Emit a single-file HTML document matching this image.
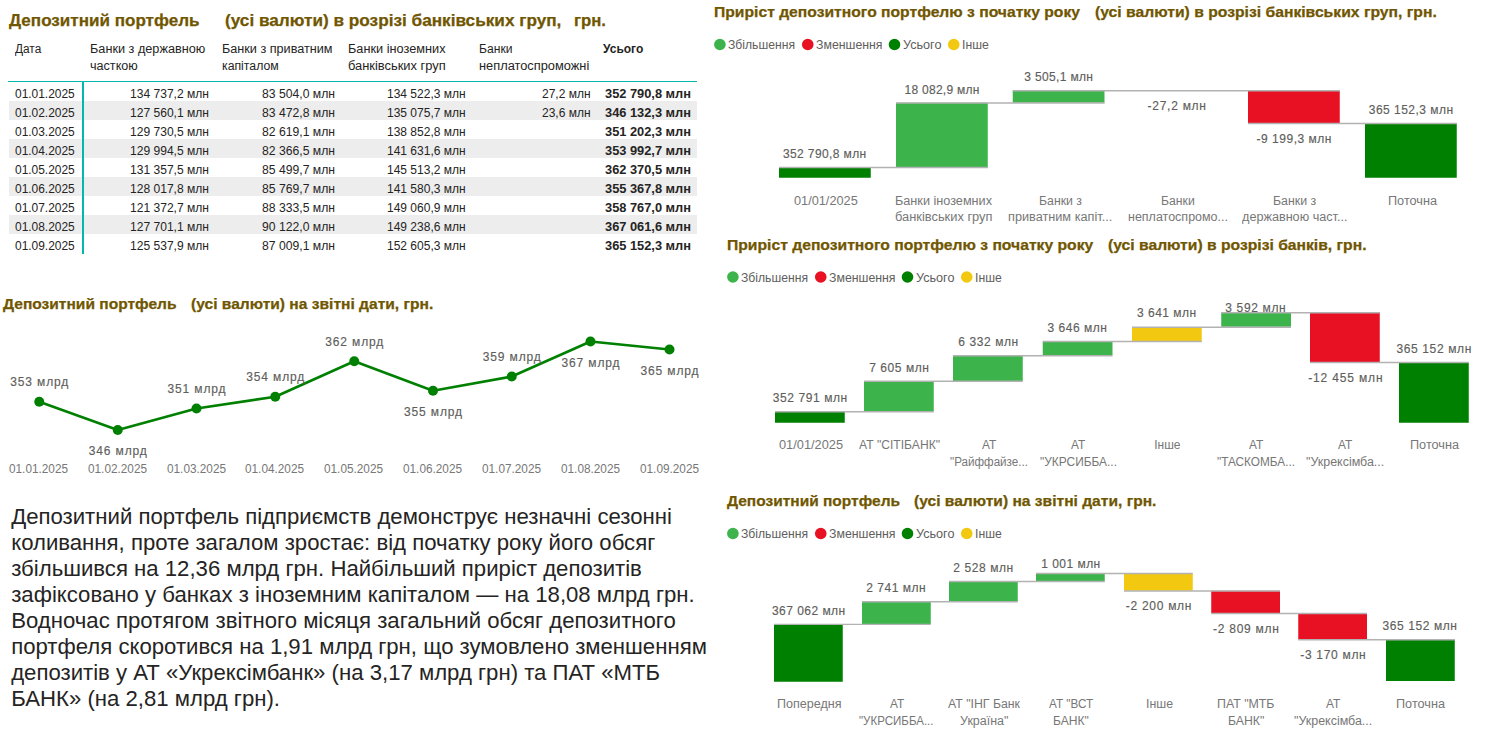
<!DOCTYPE html>
<html lang="uk"><head><meta charset="utf-8"><title>Депозитний портфель</title>
<style>
html,body{margin:0;padding:0;background:#fff}
body{width:1503px;height:736px;position:relative;overflow:hidden;font-family:"Liberation Sans",sans-serif}
.t{position:absolute;white-space:pre;transform-origin:0 0;line-height:20px;font-size:12px;color:#252423}
.b{font-weight:700}
.h{color:#705600;font-weight:700;-webkit-text-stroke:0.25px #705600}
.l{color:#605E5C}
.a{color:#777777}
.d{-webkit-text-stroke:0.15px #605E5C}
.r{position:absolute}
#para{position:absolute;left:11.2px;top:504.08px;margin:0;font-size:22.17px;line-height:26px;color:#252423;white-space:nowrap}
svg{position:absolute;left:0;top:0}
</style></head><body>
<div class="r" style="left:9px;top:101px;width:687.5px;height:19px;background:#EDEDED"></div>
<div class="r" style="left:9px;top:139px;width:687.5px;height:19px;background:#EDEDED"></div>
<div class="r" style="left:9px;top:177px;width:687.5px;height:19px;background:#EDEDED"></div>
<div class="r" style="left:9px;top:215px;width:687.5px;height:19px;background:#EDEDED"></div>
<div class="r" style="left:8px;top:80.8px;width:688.5px;height:1.3px;background:#01B8AA"></div>
<div class="r" style="left:82px;top:81px;width:2px;height:172.75px;background:#01B8AA"></div>
<svg width="1503" height="736" viewBox="0 0 1503 736">
<polyline fill="none" stroke="#008000" stroke-width="2.6" stroke-linejoin="round" points="39.25,401.75 117.75,430 196.5,408.5 275.25,396.75 354.25,361.25 433,390.75 511.75,376.5 590.5,341.5 669.5,349.5"/>
<circle cx="39.25" cy="401.75" r="5" fill="#008000"/>
<circle cx="117.75" cy="430" r="5" fill="#008000"/>
<circle cx="196.5" cy="408.5" r="5" fill="#008000"/>
<circle cx="275.25" cy="396.75" r="5" fill="#008000"/>
<circle cx="354.25" cy="361.25" r="5" fill="#008000"/>
<circle cx="433" cy="390.75" r="5" fill="#008000"/>
<circle cx="511.75" cy="376.5" r="5" fill="#008000"/>
<circle cx="590.5" cy="341.5" r="5" fill="#008000"/>
<circle cx="669.5" cy="349.5" r="5" fill="#008000"/>
<circle cx="719.90" cy="44.5" r="5.8" fill="#3CB44B"/>
<circle cx="807.75" cy="44.5" r="5.8" fill="#E81123"/>
<circle cx="894.50" cy="44.5" r="5.8" fill="#008000"/>
<circle cx="953.75" cy="44.5" r="5.8" fill="#F2C811"/>
<rect x="779.00" y="167.00" width="91.75" height="10.75" fill="#008000"/>
<rect x="896.00" y="102.75" width="91.75" height="64.75" fill="#3CB44B"/>
<rect x="1012.75" y="90.00" width="91.75" height="12.75" fill="#3CB44B"/>
<rect x="1248.00" y="90.50" width="91.75" height="32.50" fill="#E81123"/>
<rect x="1365.00" y="123.50" width="91.75" height="54.25" fill="#008000"/>
<circle cx="732.90" cy="277" r="5.8" fill="#3CB44B"/>
<circle cx="820.75" cy="277" r="5.8" fill="#E81123"/>
<circle cx="907.50" cy="277" r="5.8" fill="#008000"/>
<circle cx="966.75" cy="277" r="5.8" fill="#F2C811"/>
<rect x="775.00" y="411.50" width="69.75" height="11.25" fill="#008000"/>
<rect x="864.00" y="381.00" width="69.75" height="30.50" fill="#3CB44B"/>
<rect x="953.00" y="355.25" width="69.75" height="25.75" fill="#3CB44B"/>
<rect x="1042.75" y="341.25" width="69.75" height="14.25" fill="#3CB44B"/>
<rect x="1132.00" y="327.00" width="69.75" height="14.25" fill="#F2C811"/>
<rect x="1221.25" y="312.50" width="69.75" height="14.25" fill="#3CB44B"/>
<rect x="1310.00" y="312.50" width="69.75" height="49.50" fill="#E81123"/>
<rect x="1399.00" y="362.50" width="69.75" height="60.25" fill="#008000"/>
<circle cx="732.90" cy="533.5" r="5.8" fill="#3CB44B"/>
<circle cx="820.75" cy="533.5" r="5.8" fill="#E81123"/>
<circle cx="907.50" cy="533.5" r="5.8" fill="#008000"/>
<circle cx="966.75" cy="533.5" r="5.8" fill="#F2C811"/>
<rect x="774.00" y="624.25" width="68.75" height="57.50" fill="#008000"/>
<rect x="862.00" y="601.50" width="68.75" height="22.50" fill="#3CB44B"/>
<rect x="949.00" y="581.25" width="68.75" height="20.25" fill="#3CB44B"/>
<rect x="1036.00" y="573.25" width="68.75" height="8.00" fill="#3CB44B"/>
<rect x="1124.00" y="573.25" width="68.75" height="17.50" fill="#F2C811"/>
<rect x="1211.25" y="590.75" width="68.75" height="22.50" fill="#E81123"/>
<rect x="1298.25" y="613.25" width="68.75" height="26.25" fill="#E81123"/>
<rect x="1386.00" y="639.50" width="68.75" height="41.50" fill="#008000"/>
<g stroke="#B2B2B2" stroke-width="1.4"><line x1="779.00" y1="167.50" x2="987.75" y2="167.50"/><line x1="896.00" y1="103.05" x2="1104.50" y2="103.05"/><line x1="1012.75" y1="90.70" x2="1339.75" y2="90.70"/><line x1="1248.00" y1="123.50" x2="1456.75" y2="123.50"/><line x1="775.00" y1="411.80" x2="933.75" y2="411.80"/><line x1="864.00" y1="381.30" x2="1022.75" y2="381.30"/><line x1="953.00" y1="355.70" x2="1112.50" y2="355.70"/><line x1="1042.75" y1="341.55" x2="1201.75" y2="341.55"/><line x1="1132.00" y1="327.30" x2="1291.00" y2="327.30"/><line x1="1221.25" y1="312.80" x2="1379.75" y2="312.80"/><line x1="1310.00" y1="362.55" x2="1468.75" y2="362.55"/><line x1="774.00" y1="624.40" x2="930.75" y2="624.40"/><line x1="862.00" y1="601.80" x2="1017.75" y2="601.80"/><line x1="949.00" y1="581.55" x2="1104.75" y2="581.55"/><line x1="1036.00" y1="573.55" x2="1192.75" y2="573.55"/><line x1="1124.00" y1="591.05" x2="1280.00" y2="591.05"/><line x1="1211.25" y1="613.55" x2="1367.00" y2="613.55"/><line x1="1298.25" y1="639.80" x2="1454.75" y2="639.80"/></g>
</svg>
<span class="t h" style="left:9.00px;top:10.04px;font-size:17.2px;transform:scaleX(0.9926)">Депозитний портфель</span>
<span class="t h" style="left:225.00px;top:10.04px;font-size:17.2px">(усі валюти) в розрізі банківських груп,</span>
<span class="t h" style="left:573.75px;top:10.04px;font-size:17.2px;transform:scaleX(0.9748)">грн.</span>
<span class="t" style="left:14.50px;top:38.84px;transform:scaleX(0.9877)">Дата</span>
<span class="t" style="left:89.50px;top:38.84px;transform:scaleX(1.0570)">Банки з державною</span>
<span class="t" style="left:89.50px;top:55.84px;transform:scaleX(1.0498)">часткою</span>
<span class="t" style="left:221.50px;top:38.84px;transform:scaleX(1.0533)">Банки з приватним</span>
<span class="t" style="left:221.50px;top:55.84px;transform:scaleX(1.0234)">капіталом</span>
<span class="t" style="left:347.50px;top:38.84px;transform:scaleX(1.0607)">Банки іноземних</span>
<span class="t" style="left:347.50px;top:55.84px;transform:scaleX(1.0740)">банківських груп</span>
<span class="t" style="left:478.75px;top:38.84px;transform:scaleX(1.0108)">Банки</span>
<span class="t" style="left:478.75px;top:55.84px;transform:scaleX(1.0683)">неплатоспроможні</span>
<span class="t b" style="left:603.00px;top:38.84px">Усього</span>
<span class="t" style="left:14.50px;top:83.84px;transform:scaleX(0.9948)">01.01.2025</span>
<span class="t" style="left:130.00px;top:83.84px;transform:scaleX(1.0050)">134 737,2 млн</span>
<span class="t" style="left:262.00px;top:83.84px;transform:scaleX(1.0148)">83 504,0 млн</span>
<span class="t" style="left:387.00px;top:83.84px">134 522,3 млн</span>
<span class="t" style="left:542.00px;top:83.84px">27,2 млн</span>
<span class="t b" style="left:604.50px;top:83.84px;transform:scaleX(1.0687)">352 790,8 млн</span>
<span class="t" style="left:14.50px;top:102.84px;transform:scaleX(0.9948)">01.02.2025</span>
<span class="t" style="left:130.00px;top:102.84px;transform:scaleX(1.0050)">127 560,1 млн</span>
<span class="t" style="left:262.00px;top:102.84px;transform:scaleX(1.0148)">83 472,8 млн</span>
<span class="t" style="left:387.00px;top:102.84px">135 075,7 млн</span>
<span class="t" style="left:542.00px;top:102.84px">23,6 млн</span>
<span class="t b" style="left:604.50px;top:102.84px;transform:scaleX(1.0687)">346 132,3 млн</span>
<span class="t" style="left:14.50px;top:121.84px;transform:scaleX(0.9948)">01.03.2025</span>
<span class="t" style="left:130.00px;top:121.84px;transform:scaleX(1.0050)">129 730,5 млн</span>
<span class="t" style="left:262.00px;top:121.84px;transform:scaleX(1.0148)">82 619,1 млн</span>
<span class="t" style="left:387.00px;top:121.84px">138 852,8 млн</span>
<span class="t b" style="left:604.50px;top:121.84px;transform:scaleX(1.0687)">351 202,3 млн</span>
<span class="t" style="left:14.50px;top:140.84px;transform:scaleX(0.9948)">01.04.2025</span>
<span class="t" style="left:130.00px;top:140.84px;transform:scaleX(1.0050)">129 994,5 млн</span>
<span class="t" style="left:262.00px;top:140.84px;transform:scaleX(1.0148)">82 366,5 млн</span>
<span class="t" style="left:387.00px;top:140.84px">141 631,6 млн</span>
<span class="t b" style="left:604.50px;top:140.84px;transform:scaleX(1.0687)">353 992,7 млн</span>
<span class="t" style="left:14.50px;top:159.84px;transform:scaleX(0.9948)">01.05.2025</span>
<span class="t" style="left:130.00px;top:159.84px;transform:scaleX(1.0050)">131 357,5 млн</span>
<span class="t" style="left:262.00px;top:159.84px;transform:scaleX(1.0148)">85 499,7 млн</span>
<span class="t" style="left:387.00px;top:159.84px">145 513,2 млн</span>
<span class="t b" style="left:604.50px;top:159.84px;transform:scaleX(1.0687)">362 370,5 млн</span>
<span class="t" style="left:14.50px;top:178.84px;transform:scaleX(0.9948)">01.06.2025</span>
<span class="t" style="left:130.00px;top:178.84px;transform:scaleX(1.0050)">128 017,8 млн</span>
<span class="t" style="left:262.00px;top:178.84px;transform:scaleX(1.0148)">85 769,7 млн</span>
<span class="t" style="left:387.00px;top:178.84px">141 580,3 млн</span>
<span class="t b" style="left:604.50px;top:178.84px;transform:scaleX(1.0687)">355 367,8 млн</span>
<span class="t" style="left:14.50px;top:197.84px;transform:scaleX(0.9948)">01.07.2025</span>
<span class="t" style="left:130.00px;top:197.84px;transform:scaleX(1.0050)">121 372,7 млн</span>
<span class="t" style="left:262.00px;top:197.84px;transform:scaleX(1.0148)">88 333,5 млн</span>
<span class="t" style="left:387.00px;top:197.84px">149 060,9 млн</span>
<span class="t b" style="left:604.50px;top:197.84px;transform:scaleX(1.0687)">358 767,0 млн</span>
<span class="t" style="left:14.50px;top:216.84px;transform:scaleX(0.9948)">01.08.2025</span>
<span class="t" style="left:130.00px;top:216.84px;transform:scaleX(1.0050)">127 701,1 млн</span>
<span class="t" style="left:262.00px;top:216.84px;transform:scaleX(1.0148)">90 122,0 млн</span>
<span class="t" style="left:387.00px;top:216.84px">149 238,6 млн</span>
<span class="t b" style="left:604.50px;top:216.84px;transform:scaleX(1.0687)">367 061,6 млн</span>
<span class="t" style="left:14.50px;top:235.84px;transform:scaleX(0.9948)">01.09.2025</span>
<span class="t" style="left:130.00px;top:235.84px;transform:scaleX(1.0050)">125 537,9 млн</span>
<span class="t" style="left:262.00px;top:235.84px;transform:scaleX(1.0148)">87 009,1 млн</span>
<span class="t" style="left:387.00px;top:235.84px">152 605,3 млн</span>
<span class="t b" style="left:604.50px;top:235.84px;transform:scaleX(1.0687)">365 152,3 млн</span>
<span class="t h" style="left:2.75px;top:293.55px;font-size:15px;transform:scaleX(1.0359)">Депозитний портфель</span>
<span class="t h" style="left:190.75px;top:293.55px;font-size:15px;transform:scaleX(1.0385)">(усі валюти) на звітні дати, грн.</span>
<span class="t l d" style="left:10.25px;top:371.59px;letter-spacing:0.855px">353 млрд</span>
<span class="t l d" style="left:88.75px;top:440.84px;letter-spacing:0.855px">346 млрд</span>
<span class="t l d" style="left:167.50px;top:378.84px;letter-spacing:0.855px">351 млрд</span>
<span class="t l d" style="left:246.25px;top:367.09px;letter-spacing:0.855px">354 млрд</span>
<span class="t l d" style="left:325.25px;top:332.09px;letter-spacing:0.855px">362 млрд</span>
<span class="t l d" style="left:404.00px;top:402.09px;letter-spacing:0.855px">355 млрд</span>
<span class="t l d" style="left:482.75px;top:347.09px;letter-spacing:0.855px">359 млрд</span>
<span class="t l d" style="left:561.50px;top:352.84px;letter-spacing:0.855px">367 млрд</span>
<span class="t l d" style="left:640.50px;top:361.34px;letter-spacing:0.855px">365 млрд</span>
<span class="t a" style="left:9.45px;top:459.09px;transform:scaleX(0.9823)">01.01.2025</span>
<span class="t a" style="left:87.95px;top:459.09px;transform:scaleX(0.9823)">01.02.2025</span>
<span class="t a" style="left:166.70px;top:459.09px;transform:scaleX(0.9823)">01.03.2025</span>
<span class="t a" style="left:245.45px;top:459.09px;transform:scaleX(0.9823)">01.04.2025</span>
<span class="t a" style="left:324.45px;top:459.09px;transform:scaleX(0.9823)">01.05.2025</span>
<span class="t a" style="left:403.20px;top:459.09px;transform:scaleX(0.9823)">01.06.2025</span>
<span class="t a" style="left:481.95px;top:459.09px;transform:scaleX(0.9823)">01.07.2025</span>
<span class="t a" style="left:560.70px;top:459.09px;transform:scaleX(0.9823)">01.08.2025</span>
<span class="t a" style="left:639.70px;top:459.09px;transform:scaleX(0.9823)">01.09.2025</span>
<span class="t h" style="left:714.00px;top:2.30px;font-size:15px;transform:scaleX(1.0450)">Приріст депозитного портфелю з початку року</span>
<span class="t h" style="left:1094.50px;top:2.30px;font-size:15px;transform:scaleX(1.0471)">(усі валюти) в розрізі банківських груп, грн.</span>
<span class="t l" style="left:728.00px;top:35.09px;transform:scaleX(1.0137)">Збільшення</span>
<span class="t l" style="left:815.50px;top:35.09px;transform:scaleX(1.0253)">Зменшення</span>
<span class="t l" style="left:902.50px;top:35.09px;transform:scaleX(1.0534)">Усього</span>
<span class="t l" style="left:961.75px;top:35.09px;transform:scaleX(1.0184)">Інше</span>
<span class="t l d" style="left:782.98px;top:143.84px;letter-spacing:0.387px">352 790,8 млн</span>
<span class="t l d" style="left:904.50px;top:80.09px;letter-spacing:0.278px">18 082,9 млн</span>
<span class="t l d" style="left:1024.25px;top:66.84px;letter-spacing:0.345px">3 505,1 млн</span>
<span class="t l d" style="left:1147.50px;top:95.84px;letter-spacing:0.740px">-27,2 млн</span>
<span class="t l d" style="left:1256.50px;top:128.84px;letter-spacing:0.523px">-9 199,3 млн</span>
<span class="t l d" style="left:1368.78px;top:99.59px;letter-spacing:0.470px">365 152,3 млн</span>
<span class="t a" style="left:794.12px;top:190.84px;transform:scaleX(1.0614)">01/01/2025</span>
<span class="t a" style="left:895.00px;top:190.84px;transform:scaleX(1.0552)">Банки іноземних</span>
<span class="t a" style="left:894.75px;top:206.84px;transform:scaleX(1.0712)">банківських груп</span>
<span class="t a" style="left:1038.80px;top:190.84px;transform:scaleX(1.0246)">Банки з</span>
<span class="t a" style="left:1008.17px;top:206.84px;transform:scaleX(1.0587)">приватним капіт...</span>
<span class="t a" style="left:1160.62px;top:190.84px;transform:scaleX(1.0184)">Банки</span>
<span class="t a" style="left:1127.50px;top:206.84px;transform:scaleX(1.0413)">неплатоспромо...</span>
<span class="t a" style="left:1273.17px;top:190.84px;transform:scaleX(1.0305)">Банки з</span>
<span class="t a" style="left:1242.05px;top:206.84px;transform:scaleX(1.0534)">державною част...</span>
<span class="t a" style="left:1387.50px;top:190.84px;transform:scaleX(1.0570)">Поточна</span>
<span class="t h" style="left:727.00px;top:234.80px;font-size:15px;transform:scaleX(1.0457)">Приріст депозитного портфелю з початку року</span>
<span class="t h" style="left:1108.25px;top:234.80px;font-size:15px;transform:scaleX(1.0451)">(усі валюти) в розрізі банків, грн.</span>
<span class="t l" style="left:741.00px;top:267.59px;transform:scaleX(1.0137)">Збільшення</span>
<span class="t l" style="left:828.50px;top:267.59px;transform:scaleX(1.0253)">Зменшення</span>
<span class="t l" style="left:915.50px;top:267.59px;transform:scaleX(1.0534)">Усього</span>
<span class="t l" style="left:974.75px;top:267.59px;transform:scaleX(1.0184)">Інше</span>
<span class="t l d" style="left:772.75px;top:387.59px;letter-spacing:0.591px">352 791 млн</span>
<span class="t l d" style="left:869.23px;top:357.59px;letter-spacing:0.562px">7 605 млн</span>
<span class="t l d" style="left:958.25px;top:331.84px;letter-spacing:0.594px">6 332 млн</span>
<span class="t l d" style="left:1047.50px;top:317.84px;letter-spacing:0.531px">3 646 млн</span>
<span class="t l d" style="left:1136.97px;top:302.84px;letter-spacing:0.500px">3 641 млн</span>
<span class="t l d" style="left:1225.25px;top:297.84px;letter-spacing:0.656px">3 592 млн</span>
<span class="t l d" style="left:1308.28px;top:367.59px;letter-spacing:0.833px">-12 455 млн</span>
<span class="t l d" style="left:1396.53px;top:338.59px;letter-spacing:0.616px">365 152 млн</span>
<span class="t a" style="left:778.75px;top:435.09px;transform:scaleX(1.0656)">01/01/2025</span>
<span class="t a" style="left:859.25px;top:435.09px;transform:scaleX(1.0101)">АТ "СІТІБАНК"</span>
<span class="t a" style="left:981.88px;top:435.09px;transform:scaleX(0.9892)">АТ</span>
<span class="t a" style="left:950.00px;top:451.59px;transform:scaleX(0.9699)">"Райффайзе...</span>
<span class="t a" style="left:1071.12px;top:435.09px;transform:scaleX(0.9892)">АТ</span>
<span class="t a" style="left:1039.75px;top:451.59px;transform:scaleX(0.9931)">"УКРСИББА...</span>
<span class="t a" style="left:1154.28px;top:435.09px">Інше</span>
<span class="t a" style="left:1249.12px;top:435.09px;transform:scaleX(0.9892)">АТ</span>
<span class="t a" style="left:1217.25px;top:451.59px;transform:scaleX(0.9823)">"ТАСКОМБА...</span>
<span class="t a" style="left:1338.47px;top:435.09px;transform:scaleX(0.9892)">АТ</span>
<span class="t a" style="left:1306.47px;top:451.59px;transform:scaleX(1.0379)">"Укрексімба...</span>
<span class="t a" style="left:1410.00px;top:435.09px;transform:scaleX(1.0570)">Поточна</span>
<span class="t h" style="left:726.60px;top:491.05px;font-size:15px;transform:scaleX(1.0329)">Депозитний портфель</span>
<span class="t h" style="left:914.00px;top:491.05px;font-size:15px;transform:scaleX(1.0392)">(усі валюти) на звітні дати, грн.</span>
<span class="t l" style="left:741.00px;top:524.09px;transform:scaleX(1.0137)">Збільшення</span>
<span class="t l" style="left:828.50px;top:524.09px;transform:scaleX(1.0253)">Зменшення</span>
<span class="t l" style="left:915.50px;top:524.09px;transform:scaleX(1.0534)">Усього</span>
<span class="t l" style="left:974.75px;top:524.09px;transform:scaleX(1.0184)">Інше</span>
<span class="t l d" style="left:771.98px;top:600.84px;letter-spacing:0.466px">367 062 млн</span>
<span class="t l d" style="left:866.25px;top:577.59px;letter-spacing:0.531px">2 741 млн</span>
<span class="t l d" style="left:953.25px;top:557.59px;letter-spacing:0.594px">2 528 млн</span>
<span class="t l d" style="left:1041.25px;top:553.84px;letter-spacing:0.469px">1 001 млн</span>
<span class="t l d" style="left:1125.72px;top:595.84px;letter-spacing:0.722px">-2 200 млн</span>
<span class="t l d" style="left:1213.00px;top:619.09px;letter-spacing:0.750px">-2 809 млн</span>
<span class="t l d" style="left:1300.25px;top:644.84px;letter-spacing:0.694px">-3 170 млн</span>
<span class="t l d" style="left:1382.50px;top:616.09px;letter-spacing:0.591px">365 152 млн</span>
<span class="t a" style="left:777.00px;top:693.84px;transform:scaleX(1.0456)">Попередня</span>
<span class="t a" style="left:889.58px;top:693.84px;transform:scaleX(0.9892)">АТ</span>
<span class="t a" style="left:859.45px;top:710.84px;transform:scaleX(0.9609)">"УКРСИББА...</span>
<span class="t a" style="left:948.00px;top:693.84px;transform:scaleX(1.0249)">АТ "ІНГ Банк</span>
<span class="t a" style="left:959.75px;top:710.84px;transform:scaleX(1.0413)">Україна"</span>
<span class="t a" style="left:1048.88px;top:693.84px;transform:scaleX(0.9789)">АТ "ВСТ</span>
<span class="t a" style="left:1053.12px;top:710.84px;transform:scaleX(1.0062)">БАНК"</span>
<span class="t a" style="left:1145.50px;top:693.84px;transform:scaleX(1.0280)">Інше</span>
<span class="t a" style="left:1217.45px;top:693.84px;transform:scaleX(1.0299)">ПАТ "МТБ</span>
<span class="t a" style="left:1228.08px;top:710.84px;transform:scaleX(1.0202)">БАНК"</span>
<span class="t a" style="left:1326.28px;top:693.84px;transform:scaleX(0.9892)">АТ</span>
<span class="t a" style="left:1294.28px;top:710.84px;transform:scaleX(1.0379)">"Укрексімба...</span>
<span class="t a" style="left:1396.25px;top:693.84px;transform:scaleX(1.0570)">Поточна</span>
<p id="para">Депозитний портфель підприємств демонструє незначні сезонні<br>
коливання, проте загалом зростає: від початку року його обсяг<br>
збільшився на 12,36 млрд грн. Найбільший приріст депозитів<br>
зафіксовано у банках з іноземним капіталом — на 18,08 млрд грн.<br>
Водночас протягом звітного місяця загальний обсяг депозитного<br>
портфеля скоротився на 1,91 млрд грн, що зумовлено зменшенням<br>
депозитів у АТ «Укрексімбанк» (на 3,17 млрд грн) та ПАТ «МТБ<br>
БАНК» (на 2,81 млрд грн).</p>
</body></html>
